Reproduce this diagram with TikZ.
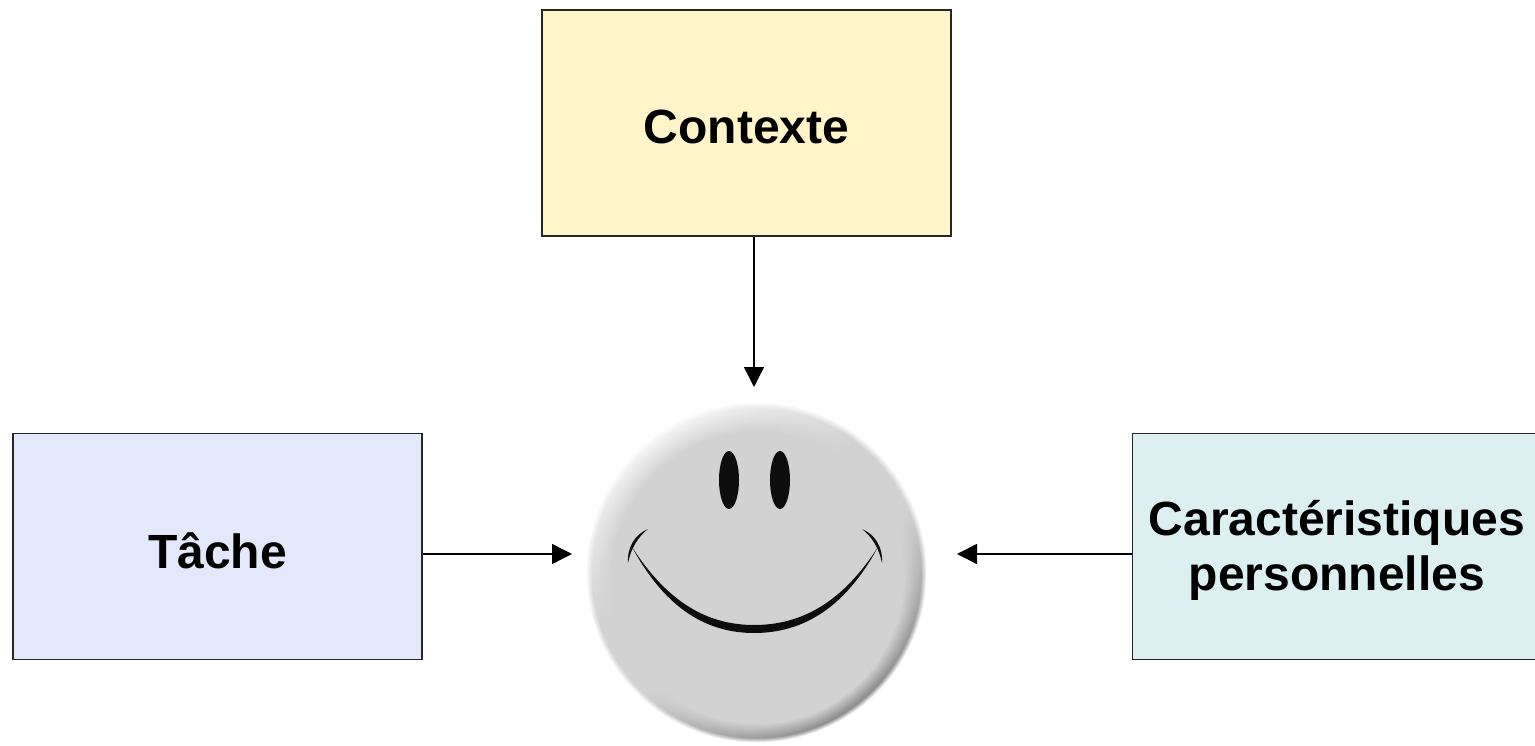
\documentclass[tikz,border=0pt]{standalone}
\usepackage{fontspec}
\setmainfont{Liberation Sans}
\usetikzlibrary{arrows.meta, positioning}

\definecolor{contextefill}{HTML}{FFF5C8}
\definecolor{tachefill}{HTML}{E3E8FB}
\definecolor{persofill}{HTML}{DCEFF1}
\definecolor{facegray}{HTML}{D2D2D2}
\definecolor{rimdark}{HTML}{3C3C3C}

% Rim colours, set again for every ring of the face
\colorlet{rimhi}{white}
\colorlet{rimmid}{facegray}
\colorlet{rimlo}{rimdark}
\pgfdeclareverticalshading[rimhi,rimmid,rimlo]{bevel}{100bp}{color(0bp)=(rimlo); color(45bp)=(rimmid); color(58bp)=(rimmid); color(84bp)=(rimhi); color(100bp)=(rimhi)}

\begin{document}
\begin{tikzpicture}[
    x=1pt, y=-1pt,
    font=\bfseries\fontsize{48}{55}\selectfont,
    factor/.style={draw=black!85, line width=1.4pt, minimum width=409pt, minimum height=226pt, inner sep=0pt},
    caption/.style={align=center, yshift=-4pt},
    influence/.style={line width=1.4pt, -{Triangle[length=20pt, width=20pt]}},
    facepart/.style={fill=black!95, draw=none}
]
    \useasboundingbox (0,0) rectangle (1535,746);

    % Nodes
    \node[factor, fill=contextefill, label={[caption]center:Contexte}] (contexte) at (746.5,123) {};
    \node[factor, fill=tachefill, label={[caption]center:T\^ache}] (tache) at (217.5,546.5) {};
    \node[factor, fill=persofill, right=709pt of tache, label={[caption]center:{Caract\'eristiques\\personnelles}}] (perso) {};

    % Face
    \foreach \ring in {0,...,24} {
        \pgfmathtruncatemacro{\edge}{min(100,(\ring+1)*100/6)}
        \pgfmathtruncatemacro{\inner}{max(0,(\ring-6)*100/18)}
        \pgfmathsetmacro{\cx}{756.5+1.5*\ring/24}
        \pgfmathsetmacro{\cy}{572.5+5.5*\ring/24}
        \colorlet{rimmid}{facegray!\edge!white}
        \colorlet{rimlo}{rimdark!\edge!white}
        \colorlet{rimlo}{facegray!\inner!rimlo}
        \colorlet{rimhi}{facegray!\inner!white}
        \shade[shading=bevel, shading angle=35] (\cx,\cy) circle ({170-\ring});
    }
    \fill[facepart] (729,480) ellipse (10 and 29);
    \fill[facepart] (780,480) ellipse (10 and 29);
    \fill[facepart] (632,547) .. controls (666,610) and (708,633) .. (754,633)
        .. controls (801,633) and (844,610) .. (878,547)
        .. controls (842,603) and (801,625) .. (754,625)
        .. controls (708,625) and (668,603) .. (632,547) -- cycle;
    \fill[facepart] (648,529) .. controls (636,534) and (627,546) .. (628,563)
        .. controls (631,548) and (638,537) .. (648,529) -- cycle;
    \fill[facepart] (862,529) .. controls (874,534) and (883,546) .. (882,563)
        .. controls (879,548) and (872,537) .. (862,529) -- cycle;

    % Free ends of the connectors
    \coordinate (faceN) at (754,387);
    \coordinate (faceW) at (572,554);
    \coordinate (faceE) at (957,554);

    % Connections
    \draw[influence] (contexte.south -| faceN) -- (faceN);
    \draw[influence] (tache.east |- faceW) -- (faceW);
    \draw[influence] (perso.west |- faceE) -- (faceE);
\end{tikzpicture}
\end{document}
